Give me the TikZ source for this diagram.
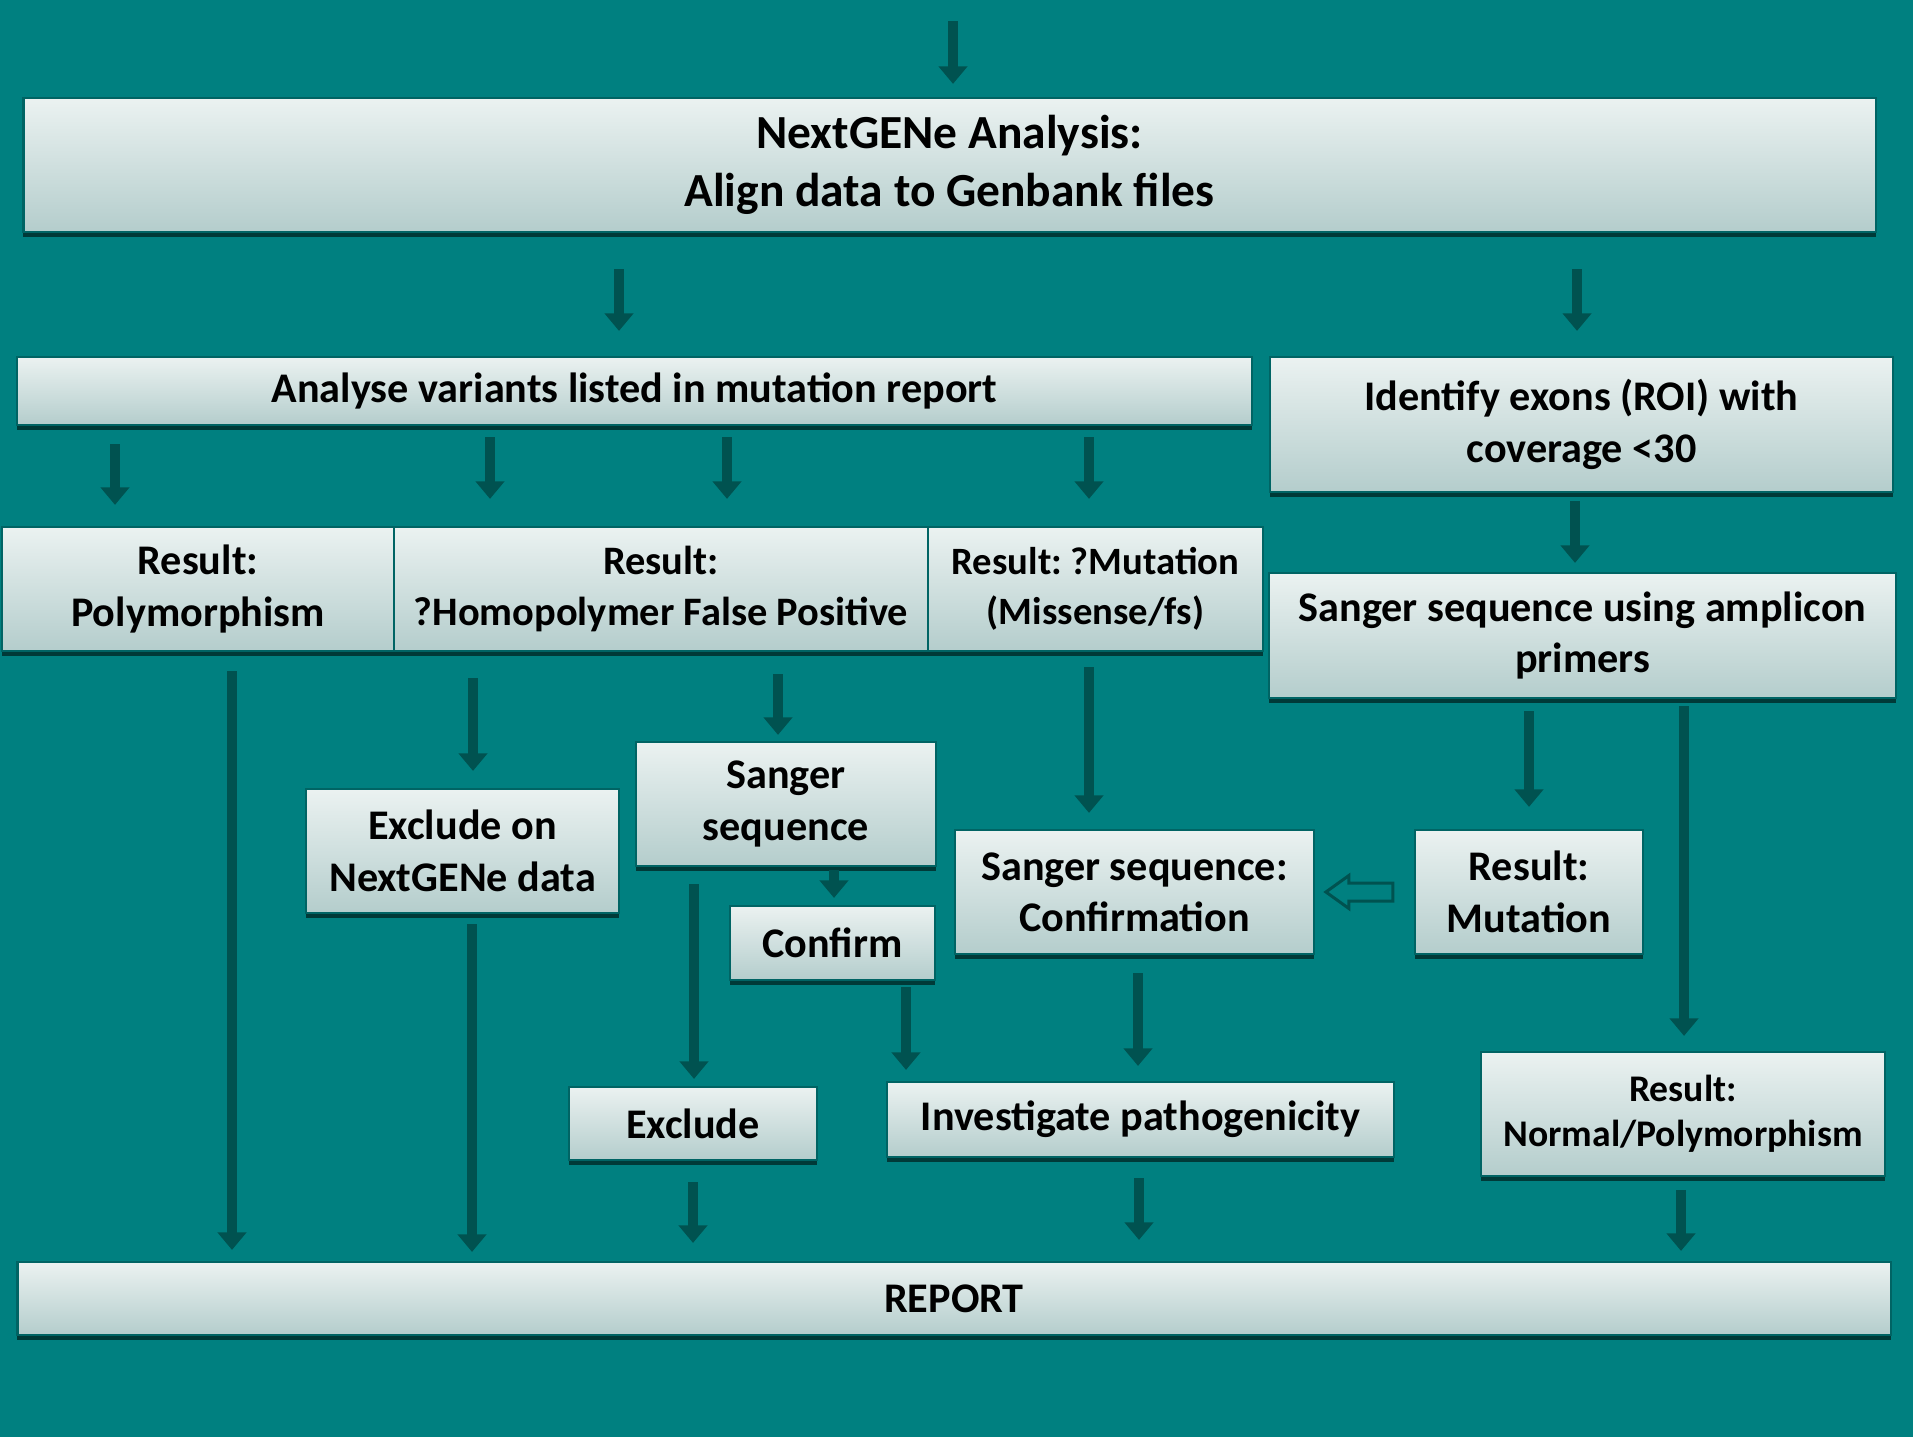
\documentclass[tikz,border=0pt]{standalone}
\usepackage{fontspec}
\setmainfont{Carlito}
\usetikzlibrary{arrows.meta,shadows}
\definecolor{bgteal}{RGB}{0,128,128}
\definecolor{arrowcol}{RGB}{0,82,80}
\definecolor{boxline}{RGB}{0,100,100}
\definecolor{boxtop}{RGB}{235,242,241}
\definecolor{boxbot}{RGB}{180,205,204}
\definecolor{shadowcol}{RGB}{0,58,56}
\frenchspacing
\begin{document}
\begin{tikzpicture}[x=0.01cm,y=-0.01cm,
    box/.style={draw=boxline,line width=0.6pt,top color=boxtop,bottom color=boxbot,
        drop shadow={shadow xshift=0pt,shadow yshift=-1.4pt,fill=shadowcol,opacity=1},
        inner sep=0pt,align=center,font=\bfseries\fontsize{12}{14.6}\selectfont},
    down/.style={draw=arrowcol,line width=2.8pt,-{Triangle[width=8pt,length=5pt]}},
    hollow/.style={draw=arrowcol,line width=0.85pt,fill=bgteal,line join=miter},
    gaps/.style 2 args={shorten <=#1mm,shorten >=#2mm}]
    \fill[bgteal] (0,0) rectangle (1913,1437);
    \useasboundingbox (0,0) rectangle (1913,1437);

    \node[box,minimum width=185.1mm,minimum height=13.4mm,font=\bfseries\fontsize{13.5}{16.7}\selectfont] (nextgene) at (949.5,165) {NextGENe Analysis:\\Align data to Genbank files};
    \node[box,minimum width=123.5mm,minimum height=6.8mm] (analyse) at (634.5,391) {Analyse variants listed in mutation report};
    \node[box,minimum width=62.3mm,minimum height=13.5mm] (exons) at (1581.5,424.5) {Identify exons (ROI) with\\coverage <30};
    \node[box,minimum width=39.2mm,minimum height=12.4mm] (poly) at (198,589) {Result:\\Polymorphism};
    \node[box,minimum width=53.4mm,minimum height=12.4mm,font=\bfseries\fontsize{11.5}{14.6}\selectfont] (homo) at (661,589) {Result:\\?Homopolymer False Positive};
    \node[box,minimum width=33.5mm,minimum height=12.4mm,font=\bfseries\fontsize{11}{14.2}\selectfont] (mut) at (1095.5,589) {Result: ?Mutation\\(Missense/fs)};
    \node[box,minimum width=62.7mm,minimum height=12.5mm] (amplicon) at (1582.5,635.5) {Sanger sequence using amplicon\\primers};
    \node[box,minimum width=31.3mm,minimum height=12.4mm] (exclon) at (462.5,851) {Exclude on\\NextGENe data};
    \node[box,minimum width=30.0mm,minimum height=12.4mm] (sanger) at (786,804) {Sanger\\sequence};
    \node[box,minimum width=20.5mm,minimum height=7.4mm] (confirm) at (832.5,943) {Confirm};
    \node[box,minimum width=35.9mm,minimum height=12.4mm] (sconf) at (1134.5,892) {Sanger sequence:\\Confirmation};
    \node[box,minimum width=22.8mm,minimum height=12.4mm] (rmut) at (1529,892) {Result:\\Mutation};
    \node[box,minimum width=24.8mm,minimum height=7.3mm] (excl) at (693,1123.5) {Exclude};
    \node[box,minimum width=50.7mm,minimum height=7.5mm] (invest) at (1140.5,1119.5) {Investigate pathogenicity};
    \node[box,minimum width=40.4mm,minimum height=12.4mm,font=\bfseries\fontsize{10.7}{12.8}\selectfont] (normal) at (1683,1114) {Result:\\Normal/Polymorphism};
    \node[box,minimum width=187.2mm,minimum height=7.3mm] (report) at (954,1298.5) {REPORT};

    \coordinate (entry) at (953,21);
    \draw[down,gaps={0}{1.3}] (entry) -- (nextgene.north -| entry);
    \draw[down,gaps={3.6}{2.5}] (nextgene.south -| 619,0) -- (analyse.north -| 619,0);
    \draw[down,gaps={3.6}{2.5}] (nextgene.south -| 1577,0) -- (exons.north -| 1577,0);
    \draw[down,gaps={1.8}{2.1}] (analyse.south -| 115,0) -- (poly.north -| 115,0);
    \draw[down,gaps={1.1}{2.7}] (analyse.south -| 490,0) -- (homo.north -| 490,0);
    \draw[down,gaps={1.1}{2.7}] (analyse.south -| 727,0) -- (homo.north -| 727,0);
    \draw[down,gaps={1.1}{2.7}] (analyse.south -| 1089,0) -- (mut.north -| 1089,0);
    \draw[down,gaps={0.8}{0.9}] (exons.south -| 1575,0) -- (amplicon.north -| 1575,0);
    \draw[down,gaps={1.9}{1.1}] (poly.south -| 232,0) -- (report.north -| 232,0);
    \draw[down,gaps={2.6}{1.7}] (homo.south -| 473,0) -- (exclon.north -| 473,0);
    \draw[down,gaps={2.2}{0.6}] (homo.south -| 778,0) -- (sanger.north -| 778,0);
    \draw[down,gaps={1.5}{1.6}] (mut.south -| 1089,0) -- (sconf.north -| 1089,0);
    \draw[down,gaps={1.2}{2.2}] (amplicon.south -| 1529,0) -- (rmut.north -| 1529,0);
    \draw[down,gaps={0.7}{1.5}] (amplicon.south -| 1684,0) -- (normal.north -| 1684,0);
    \draw[down,gaps={1.0}{0.9}] (exclon.south -| 472,0) -- (report.north -| 472,0);
    \draw[down,gaps={0.3}{0.7}] (sanger.south -| 834,0) -- (confirm.north -| 834,0);
    \draw[down,gaps={1.7}{0.7}] (sanger.south -| 694,0) -- (excl.north -| 694,0);
    \draw[down,gaps={0.6}{1.1}] (confirm.south -| 906,0) -- (invest.north -| 906,0);
    \draw[down,gaps={1.8}{1.5}] (sconf.south -| 1138,0) -- (invest.north -| 1138,0);
    \draw[hollow] (rmut.west) ++(-21,-9) -- ++(-44,0) -- ++(0,-7.5) -- ++(-23,16.5) -- ++(23,16.5) -- ++(0,-7.5) -- ++(44,0) -- cycle;
    \draw[down,gaps={2.1}{1.8}] (excl.south -| 693,0) -- (report.north -| 693,0);
    \draw[down,gaps={2.0}{2.1}] (invest.south -| 1139,0) -- (report.north -| 1139,0);
    \draw[down,gaps={1.3}{1.0}] (normal.south -| 1681,0) -- (report.north -| 1681,0);
\end{tikzpicture}
\end{document}
